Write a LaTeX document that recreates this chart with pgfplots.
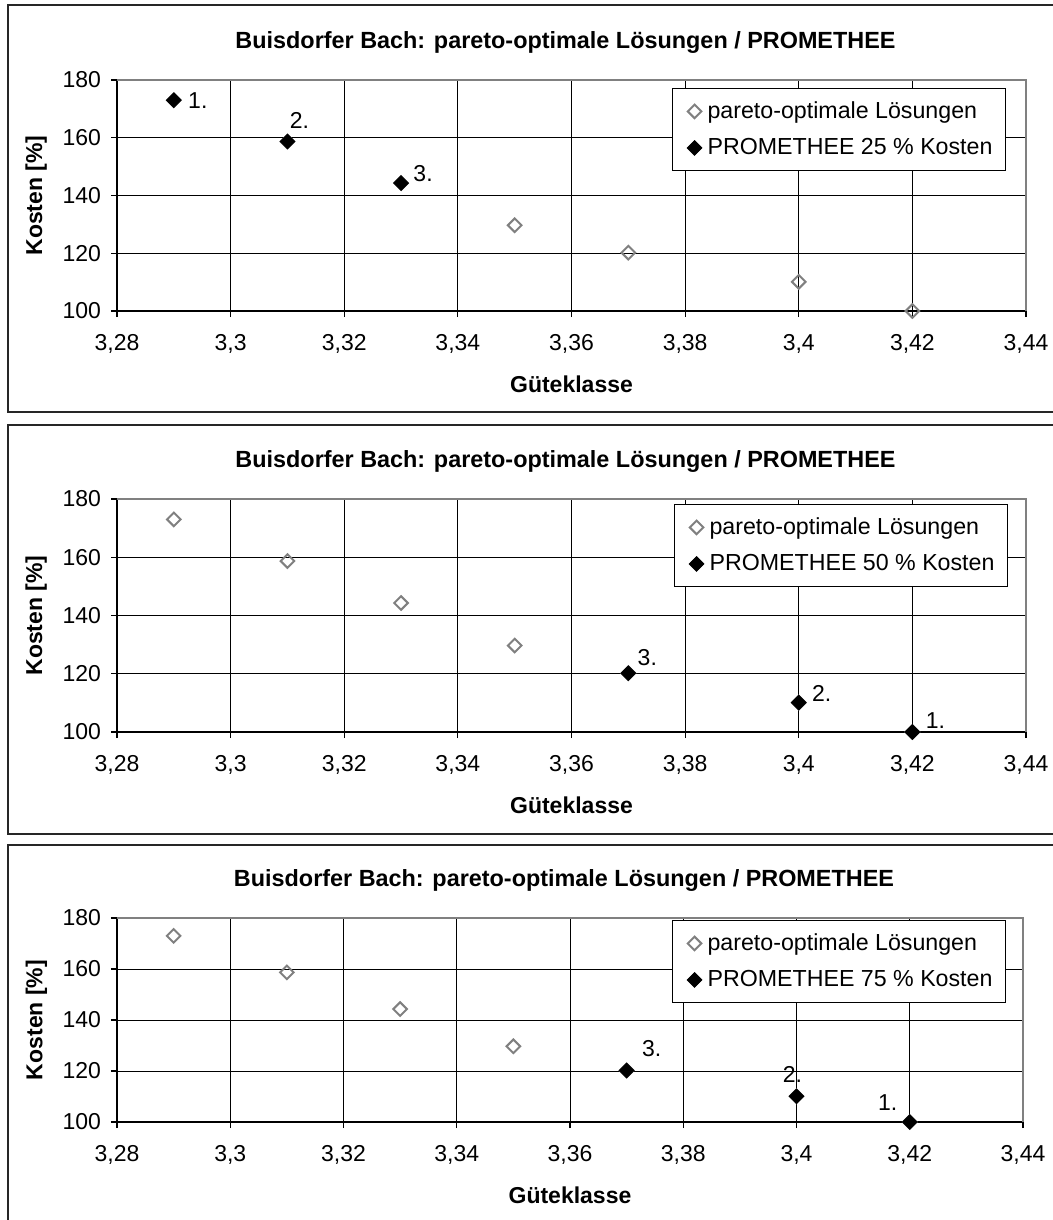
\documentclass[border=0pt]{standalone}
\usepackage{fontspec}
\setmainfont{Liberation Sans}
\usepackage{pgfplots}
\pgfplotsset{compat=1.18}
\usepackage{pgfplotstable}

\pgfplotstableread{
x y
3.29 173
3.31 158.7
3.33 144.3
3.35 129.7
3.37 120.2
3.40 110.1
3.42 100
}\pareto

\pgfplotstableread{
x y lab dx dy
3.29 173 1. 7 0
3.31 158.7 2. 1 10.5
3.33 144.3 3. 6 5
}\promA

\pgfplotstableread{
x y lab dx dy
3.37 120.2 3. 4.5 8
3.40 110.1 2. 6.5 4.5
3.42 100 1. 6.5 5.5
}\promB

\pgfplotstableread{
x y lab dx dy
3.37 120.2 3. 7.5 11
3.40 110.1 2. -7 11
3.42 100 1. -16 9.5
}\promC

\pgfplotsset{
  panel/.style={
    scale only axis,
    xmin=3.28, xmax=3.44, ymin=100, ymax=180,
    xtick={3.28,3.30,3.32,3.34,3.36,3.38,3.40,3.42,3.44},
    xticklabels={{3,28},{3,3},{3,32},{3,34},{3,36},{3,38},{3,4},{3,42},{3,44}},
    ytick={100,120,140,160,180},
    yticklabels={100,120,140,160,180},
    xticklabel style={yshift=-5pt},
    yticklabel style={xshift=-1.5pt},
    axis x line*=bottom, axis y line*=left,
    axis line style={black, line width=0.9pt},
    tick align=outside, major tick length=3pt,
    tick style={black, line width=0.6pt},
    grid=major, grid style={black, line width=0.5pt},
    clip=false,
    font=\fontsize{11.5}{13.8}\selectfont,
    title={Buisdorfer Bach: pareto-optimale Lösungen / PROMETHEE},
    title style={at={(axis description cs:0.5,1)}, anchor=center, yshift=13pt, xshift=-3pt,
      font=\bfseries\fontsize{11.7}{14}\selectfont},
    xlabel={Güteklasse}, ylabel={Kosten [\%]},
    xlabel style={at={(axis description cs:0.5,0)}, anchor=center, yshift=-36.5pt, font=\bfseries\fontsize{11.5}{13.8}\selectfont},
    ylabel style={at={(axis description cs:-0.089,0.5)}, anchor=center, font=\bfseries\fontsize{11.5}{13.8}\selectfont},
    legend cell align=left,
    legend image code/.code={\path[draw=none,fill=none] (-6pt,0pt) -- (5pt,0pt); \draw[##1] plot coordinates {(0pt,0pt)};},
    legend style={anchor=north east, draw=black, line width=0.5pt, fill=white,
      inner xsep=5pt, inner ysep=5pt, row sep=5.5pt,
      nodes={inner sep=1.5pt, text depth=0.15em},
      font=\fontsize{11.6}{13.9}\selectfont},
    extra description/.code={\draw[gray, line width=0.9pt] (rel axis cs:0,1) -- (rel axis cs:1,1) -- (rel axis cs:1,0);},
  },
  paretoplot/.style={only marks, mark=square, mark size=2.4pt,
    mark options={rotate=45, draw=gray, line width=1pt, fill=none}},
  promplot/.style={only marks, mark=square*, mark size=2.6pt,
    mark options={rotate=45, draw=black, fill=black, line width=0.4pt},
    nodes near coords, point meta=explicit symbolic,
    visualization depends on={\thisrow{dx} \as \lx},
    visualization depends on={\thisrow{dy} \as \ly},
    nodes near coords style={anchor=west, inner sep=0pt, xshift=\lx, yshift=\ly, text=black,
      font=\fontsize{11.5}{13.8}\selectfont}},
}

\begin{document}
\begin{tikzpicture}
\useasboundingbox (0,0) rectangle (526.5pt,-610pt);
% panel frames
\draw[black!85, line width=0.6pt] (4pt,-2.5pt) rectangle (535pt,-206pt);
\draw[black!85, line width=0.6pt] (4pt,-212.5pt) rectangle (535pt,-417pt);
\draw[black!85, line width=0.6pt] (4pt,-422.5pt) rectangle (535pt,-620pt);

\begin{axis}[panel, at={(58.5pt,-155.5pt)}, anchor=south west, width=454.5pt, height=115.5pt,
  legend style={at={(axis description cs:1,1)}, xshift=-10pt, yshift=-4pt}]
\addplot[paretoplot] table[x=x,y=y] {\pareto};
\addlegendentry{pareto-optimale Lösungen}
\addplot[promplot] table[x=x,y=y,meta=lab] {\promA};
\addlegendentry{PROMETHEE 25 \% Kosten}
\end{axis}

\begin{axis}[panel, at={(58.5pt,-366pt)}, anchor=south west, width=454.5pt, height=116.5pt,
  legend style={at={(axis description cs:1,1)}, xshift=-9pt, yshift=-2.5pt}]
\addplot[paretoplot] table[x=x,y=y] {\pareto};
\addlegendentry{pareto-optimale Lösungen}
\addplot[promplot] table[x=x,y=y,meta=lab] {\promB};
\addlegendentry{PROMETHEE 50 \% Kosten}
\end{axis}

\begin{axis}[panel, at={(58.5pt,-561pt)}, anchor=south west, width=453pt, height=102pt,
  legend style={at={(axis description cs:1,1)}, xshift=-8.5pt, yshift=-1pt}]
\addplot[paretoplot] table[x=x,y=y] {\pareto};
\addlegendentry{pareto-optimale Lösungen}
\addplot[promplot] table[x=x,y=y,meta=lab] {\promC};
\addlegendentry{PROMETHEE 75 \% Kosten}
\end{axis}
\end{tikzpicture}
\end{document}
